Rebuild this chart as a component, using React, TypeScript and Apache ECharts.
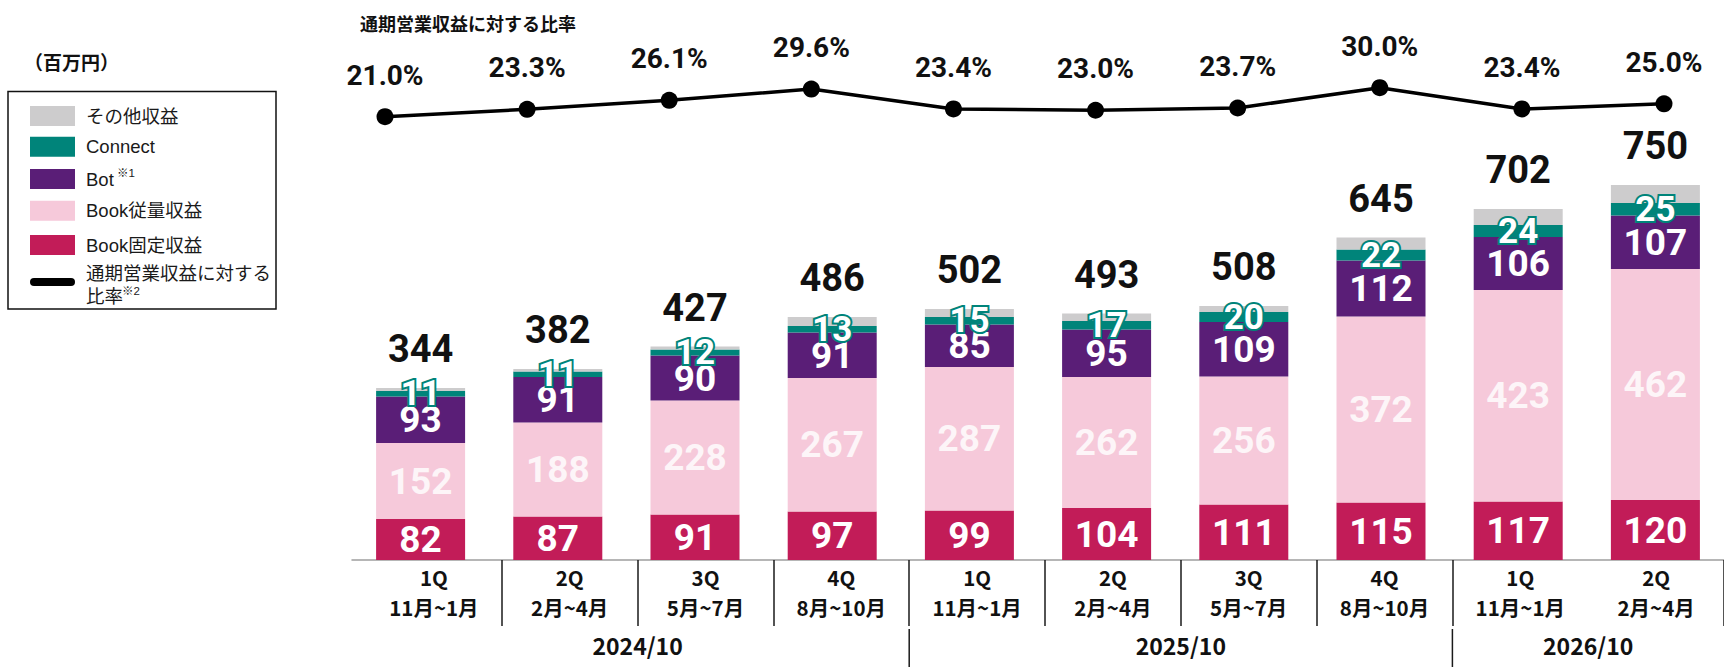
import React, { useEffect, useRef } from "react";
import * as echarts from "echarts";

const quarters = ["1Q", "2Q", "3Q", "4Q", "1Q", "2Q", "3Q", "4Q", "1Q", "2Q"];
const months = ["11月~1月", "2月~4月", "5月~7月", "8月~10月", "11月~1月", "2月~4月", "5月~7月", "8月~10月", "11月~1月", "2月~4月"];
const bookFixed = [82, 87, 91, 97, 99, 104, 111, 115, 117, 120];
const bookUsage = [152, 188, 228, 267, 287, 262, 256, 372, 423, 462];
const bot = [93, 91, 90, 91, 85, 95, 109, 112, 106, 107];
const connect = [11, 11, 12, 13, 15, 17, 20, 22, 24, 25];
const other = [6, 5, 6, 18, 16, 15, 12, 24, 32, 36];
const totals = [344, 382, 427, 486, 502, 493, 508, 645, 702, 750];
const ratio = [21.0, 23.3, 26.1, 29.6, 23.4, 23.0, 23.7, 30.0, 23.4, 25.0];
const yearLabels = ["2024/10", "2025/10", "2026/10"];
const yearStart = [0, 4, 8];
const yearEnd = [3, 7, 9];

const COLORS = {
  other: "#CDCCCD",
  connect: "#00847A",
  bot: "#5A1E77",
  usage: "#F6C9DA",
  fixed: "#C21C58",
};

const NUM_FONT = "Roboto, 'Noto Sans CJK JP', sans-serif";
const JP_FONT = "'Noto Sans CJK JP', Roboto, sans-serif";
const LEGEND_FONT = "'Liberation Sans', Arial, 'Noto Sans CJK JP', sans-serif";

export default function App() {
  const ref = useRef<HTMLDivElement>(null);

  useEffect(() => {
    if (!ref.current) return;
    const chart = echarts.init(ref.current, null, { renderer: "svg" });
    const categories = quarters.map((q, i) => q + "\n" + months[i]);

    const segLabel = {
      show: true,
      position: "inside",
      color: "#ffffff",
      fontFamily: NUM_FONT,
      fontWeight: "bold",
      fontSize: 37,
    };

    const option: any = {
      animation: false,
      backgroundColor: "#ffffff",
      grid: [
        { left: 352, width: 1374, top: 160, bottom: 107, containLabel: false },
        { left: 385, width: 1279, top: 81.3, height: 38.6, containLabel: false },
        { left: 366, width: 1364, top: 160, bottom: 107, containLabel: false },
      ],
      xAxis: [
        {
          type: "category",
          gridIndex: 0,
          data: categories,
          boundaryGap: true,
          axisLine: { show: true, lineStyle: { color: "#9e9e9e", width: 1.5 } },
          axisTick: { show: false },
          axisLabel: { show: false },
        },
        {
          type: "category",
          gridIndex: 1,
          data: categories,
          boundaryGap: false,
          show: false,
        },
        {
          type: "category",
          gridIndex: 2,
          data: categories,
          boundaryGap: true,
          axisLine: { show: false },
          axisTick: {
            show: true,
            interval: (index: number) => index !== 0 && index !== 9,
            length: 66,
            lineStyle: { color: "#1a1a1a", width: 1.5 },
          },
          axisLabel: {
            margin: 2,
            color: "#111111",
            fontFamily: JP_FONT,
            fontWeight: "bold",
            fontSize: 20.5,
            lineHeight: 30,
            interval: 0,
          },
        },
      ],
      yAxis: [
        { type: "value", gridIndex: 0, min: 0, max: 800, show: false, splitLine: { show: false } },
        { type: "value", gridIndex: 1, min: 20, max: 32, show: false, splitLine: { show: false } },
        { type: "value", gridIndex: 2, min: 0, max: 800, show: false, splitLine: { show: false } },
      ],
      series: [
        {
          name: "Book固定収益",
          type: "bar",
          stack: "rev",
          xAxisIndex: 0,
          yAxisIndex: 0,
          barWidth: 89,
          data: bookFixed,
          itemStyle: { color: COLORS.fixed },
          label: segLabel,
        },
        {
          name: "Book従量収益",
          type: "bar",
          stack: "rev",
          xAxisIndex: 0,
          yAxisIndex: 0,
          barWidth: 89,
          data: bookUsage,
          itemStyle: { color: COLORS.usage },
          label: { ...segLabel, color: "#fdf5f8" },
        },
        {
          name: "Bot",
          type: "bar",
          stack: "rev",
          xAxisIndex: 0,
          yAxisIndex: 0,
          barWidth: 89,
          data: bot,
          itemStyle: { color: COLORS.bot },
          label: segLabel,
        },
        {
          name: "Connect",
          type: "bar",
          stack: "rev",
          xAxisIndex: 0,
          yAxisIndex: 0,
          barWidth: 89,
          data: connect,
          itemStyle: { color: COLORS.connect },
          label: {
            ...segLabel,
            fontSize: 35,
            textBorderColor: COLORS.connect,
            textBorderWidth: 4,
          },
        },
        {
          name: "その他収益",
          type: "bar",
          stack: "rev",
          xAxisIndex: 0,
          yAxisIndex: 0,
          barWidth: 89,
          data: other,
          itemStyle: { color: COLORS.other },
          label: {
            show: true,
            position: "top",
            distance: 20,
            color: "#111111",
            fontFamily: NUM_FONT,
            fontWeight: "bold",
            fontSize: 38,
            formatter: (p: any) => String(totals[p.dataIndex]),
          },
        },
        {
          name: "通期営業収益に対する比率",
          type: "line",
          xAxisIndex: 1,
          yAxisIndex: 1,
          data: ratio,
          symbol: "circle",
          symbolSize: 17,
          lineStyle: { color: "#000000", width: 3.5 },
          itemStyle: { color: "#000000" },
          label: {
            show: true,
            position: "top",
            distance: 19,
            color: "#111111",
            fontFamily: NUM_FONT,
            fontWeight: "bold",
            fontSize: 28,
            formatter: (p: any) => Number(p.value).toFixed(1) + "%",
          },
        },
      ],
    };

    chart.setOption(option);

    const cx = (i: number) => chart.convertToPixel({ xAxisIndex: 2 }, i) as number;
    const baseY = chart.convertToPixel({ yAxisIndex: 0 }, 0) as number;
    const boundary = (i: number) => (cx(i - 1) + cx(i)) / 2;
    const band = cx(1) - cx(0);

    const swatchY = [116, 146.7, 179, 210.7, 245];
    const swatchColors = [COLORS.other, COLORS.connect, COLORS.bot, COLORS.usage, COLORS.fixed];
    const legendText = ["その他収益", "Connect", "Bot", "Book従量収益", "Book固定収益"];

    const graphics: any[] = [];
    graphics.push({
      type: "text",
      left: 360,
      top: 14,
      style: {
        text: "通期営業収益に対する比率",
        fontFamily: JP_FONT,
        fontWeight: "bold",
        fontSize: 18,
        fill: "#111111",
      },
    });
    graphics.push({
      type: "text",
      left: 24,
      top: 52,
      style: {
        text: "（百万円）",
        fontFamily: JP_FONT,
        fontWeight: "bold",
        fontSize: 19,
        fill: "#111111",
      },
    });
    graphics.push({
      type: "rect",
      shape: { x: 8, y: 91.5, width: 268, height: 217.5 },
      style: { fill: "none", stroke: "#111111", lineWidth: 1.5 },
    });
    swatchY.forEach((y, i) => {
      graphics.push({
        type: "rect",
        shape: { x: 30, y: y - 10, width: 45, height: 20 },
        style: { fill: swatchColors[i] },
      });
      graphics.push({
        type: "text",
        x: 86,
        y: y,
        style: {
          text: legendText[i],
          fontFamily: LEGEND_FONT,
          fontSize: 18.5,
          fill: "#1a1a1a",
          verticalAlign: "middle",
        },
      });
    });
    graphics.push({
      type: "text",
      x: 117,
      y: 173,
      style: { text: "※1", fontFamily: LEGEND_FONT, fontSize: 11.5, fill: "#1a1a1a", verticalAlign: "middle" },
    });
    graphics.push({
      type: "line",
      shape: { x1: 34, y1: 282, x2: 71, y2: 282 },
      style: { stroke: "#000000", lineWidth: 8, lineCap: "round" },
    });
    graphics.push({
      type: "text",
      x: 86,
      y: 273.5,
      style: { text: "通期営業収益に対する", fontFamily: LEGEND_FONT, fontSize: 18.5, fill: "#1a1a1a", verticalAlign: "middle" },
    });
    graphics.push({
      type: "text",
      x: 86,
      y: 296,
      style: { text: "比率", fontFamily: LEGEND_FONT, fontSize: 18.5, fill: "#1a1a1a", verticalAlign: "middle" },
    });
    graphics.push({
      type: "text",
      x: 122,
      y: 291,
      style: { text: "※2", fontFamily: LEGEND_FONT, fontSize: 11.5, fill: "#1a1a1a", verticalAlign: "middle" },
    });

    yearLabels.forEach((label, k) => {
      const xc = (cx(yearStart[k]) + cx(yearEnd[k])) / 2;
      graphics.push({
        type: "text",
        x: xc,
        y: baseY + 85,
        style: {
          text: label,
          fontFamily: JP_FONT,
          fontWeight: "bold",
          fontSize: 23,
          fill: "#111111",
          align: "center",
          verticalAlign: "middle",
        },
      });
      if (k > 0) {
        const bx = boundary(yearStart[k]);
        graphics.push({
          type: "line",
          shape: { x1: bx, y1: baseY + 69, x2: bx, y2: 667 },
          style: { stroke: "#1a1a1a", lineWidth: 1.5 },
        });
      }
    });
    void band;

    chart.setOption({ graphic: graphics });

    return () => chart.dispose();
  }, []);

  return (
    <div
      ref={ref}
      style={{ position: "absolute", left: 0, top: 0, width: 1724, height: 667, background: "#ffffff" }}
    />
  );
}
